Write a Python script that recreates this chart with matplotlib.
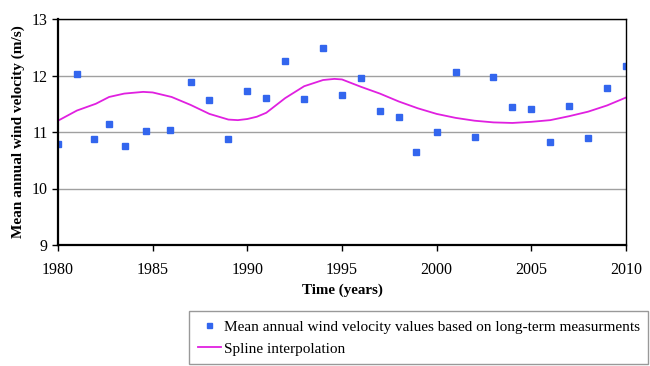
import matplotlib
matplotlib.use("Agg")
import matplotlib.pyplot as plt

plt.rcParams['font.family'] = ['Liberation Serif', 'DejaVu Serif']

years = [1980, 1981, 1981.9, 1982.7, 1983.56, 1984.65, 1985.9, 1987, 1988, 1989,
         1990, 1990.96, 1992, 1993, 1994, 1995, 1996, 1997, 1998, 1998.9,
         2000, 2001, 2002, 2003, 2004, 2005, 2006, 2007, 2008, 2009, 2010]
velocity = [10.79, 12.03, 10.88, 11.15, 10.76, 11.02, 11.04, 11.88, 11.56, 10.88,
            11.72, 11.61, 12.26, 11.58, 12.48, 11.66, 11.95, 11.37, 11.26, 10.64,
            11.00, 12.06, 10.92, 11.98, 11.44, 11.41, 10.83, 11.46, 10.90, 11.78, 12.17]

spline_years = [1980, 1981, 1982, 1982.7, 1983.5, 1984.5, 1985, 1986, 1987, 1988, 1989, 1989.5,
                1990, 1990.5, 1991, 1992, 1993, 1994, 1994.6, 1995, 1996, 1997, 1998,
                1999, 2000, 2001, 2002, 2003, 2004, 2005, 2006, 2007, 2008, 2009, 2010]
spline_vals = [11.20, 11.38, 11.50, 11.62, 11.68, 11.71, 11.70, 11.62, 11.48, 11.32, 11.22, 11.21,
               11.23, 11.27, 11.34, 11.60, 11.81, 11.92, 11.94, 11.93, 11.80, 11.68, 11.54,
               11.42, 11.32, 11.25, 11.20, 11.17, 11.16, 11.18, 11.21, 11.28, 11.36, 11.47, 11.61]

fig = plt.figure(figsize=(6.5, 3.66), dpi=100)
ax = fig.add_axes([58/650, 1-245/366, (626-58)/650, (245-19)/366])

sc, = ax.plot(years, velocity, linestyle='none', marker='s', markersize=4.5,
              color='#3366ee', label='Mean annual wind velocity values based on long-term measurments')
ln, = ax.plot(spline_years, spline_vals, color='#e020e0', linewidth=1.3, label='Spline interpolation')

ax.set_xlim(1980, 2010)
ax.set_ylim(9, 13)
ax.set_xticks(range(1980, 2011, 5))
ax.set_yticks(range(9, 14))
ax.yaxis.grid(True, color='#a0a0a0', linewidth=1)
ax.set_axisbelow(True)
for s in ax.spines.values():
    s.set_color('black')
    s.set_linewidth(1.0)
ax.spines['left'].set_linewidth(1.6)
ax.spines['bottom'].set_linewidth(1.6)
ax.tick_params(axis='both', labelsize=11.5, direction='out', length=4, width=1)
ax.tick_params(axis='x', pad=8)

ax.set_xlabel('Time (years)', fontsize=10.8, fontweight='bold', labelpad=4)
ax.set_ylabel('Mean annual wind velocity (m/s)', fontsize=11, fontweight='bold', labelpad=5)

leg = fig.legend(handles=[sc, ln], loc='lower right', bbox_to_anchor=(648/650, 2/366),
                 fontsize=11, frameon=True, fancybox=False, edgecolor='#808080',
                 handlelength=1.5, handletextpad=0.2, borderpad=0.55, labelspacing=0.55,
                 markerscale=0.8, borderaxespad=0)
leg.get_frame().set_linewidth(1.0)

fig.savefig('out.png', dpi=100)
